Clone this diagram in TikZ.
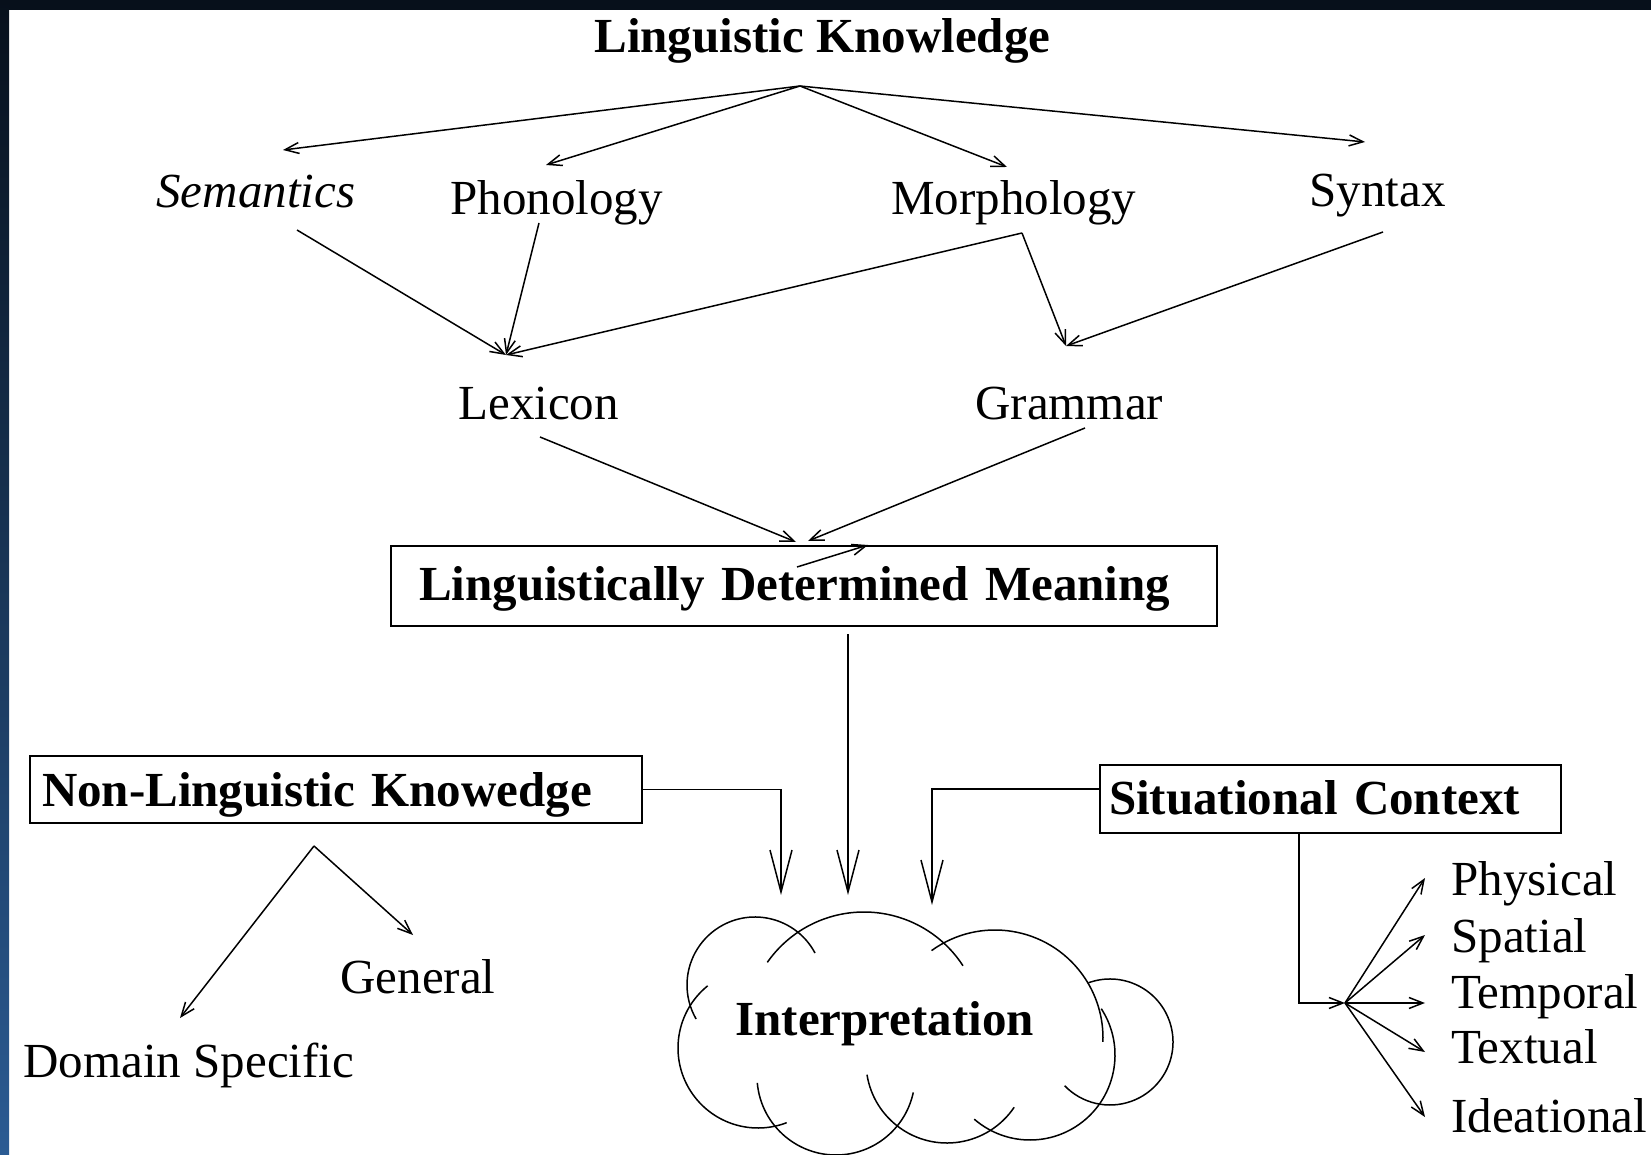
\documentclass[tikz,border=0pt]{standalone}
\usepackage{fontspec}
\setmainfont{Liberation Serif}
\usetikzlibrary{arrows.meta}
\definecolor{topdark}{HTML}{07101B}
\definecolor{leftblue}{HTML}{2B5B93}
\tikzset{
  conn/.style={line width=0.75pt, -{Straight Barb[length=7pt,width=5.5pt]}},
  bigarrow/.style={line width=0.75pt, -{Straight Barb[length=21pt,width=11pt]}},
  plain/.style={line width=0.75pt},
  boxed/.style={draw, line width=1pt, inner ysep=0pt, align=left, anchor=north west,
    font=\fontsize{24.5}{29}\selectfont\bfseries},
  lbl/.style={inner sep=0pt, anchor=base west, font=\fontsize{24.5}{29}\selectfont},
  cloudline/.style={line width=0.75pt},
}
\begin{document}
\begin{tikzpicture}[x=0.5pt,y=0.5pt]
\useasboundingbox (0,0) rectangle (1651,-1155);
\fill[white] (0,0) rectangle (1651,-1155);
\fill[topdark] (0,0) rectangle (1651,-10);
\shade[top color=topdark, bottom color=leftblue] (0,0) rectangle (9,-1155);

% text nodes
\node[lbl] (lk) at (594,-53) {\bfseries Linguistic Knowledge};
\node[lbl] (sem) at (156,-208) {\itshape Semantics};
\node[lbl] (pho) at (450,-215) {Phonology};
\node[lbl] (mor) at (891,-215) {Morphology};
\node[lbl] (syn) at (1309,-207) {Syntax};
\node[lbl] (lex) at (458,-420) {Lexicon};
\node[lbl] (gra) at (975,-420) {Grammar};
\node[boxed, inner xsep=14pt, text width=385pt, minimum height=40pt,
      text height=19pt, text depth=5pt] (ldm) at (390,-545) {Linguistically Determined Meaning};
\node[boxed, inner xsep=6pt, text width=294pt, minimum height=33.5pt,
      text height=19pt, text depth=2.5pt] (nlk) at (29,-755) {Non-Linguistic Knowedge};
\node[boxed, inner xsep=4.5pt, text width=221.5pt, minimum height=34pt,
      text height=18pt, text depth=3pt] (sc) at (1099,-764) {Situational Context};
\node[lbl] (interp) at (735,-1035) {\bfseries Interpretation};
\node[lbl] (gen) at (340,-993) {General};
\node[lbl] (dom) at (23,-1077) {Domain Specific};
\node[lbl] (phy) at (1451,-895) {Physical};
\node[lbl] (spa) at (1451,-952) {Spatial};
\node[lbl] (tem) at (1451,-1008) {Temporal};
\node[lbl] (tex) at (1451,-1063) {Textual};
\node[lbl] (ide) at (1451,-1132) {Ideational};

% connector points
\coordinate (lkfork) at (800,-86);
\coordinate (semin) at (283,-150);
\coordinate (phoin) at (546,-165);
\coordinate (morin) at (1007,-167);
\coordinate (synin) at (1365,-142);
\coordinate (semout) at (297,-230);
\coordinate (phoout) at (539,-223);
\coordinate (morout) at (1022,-233);
\coordinate (synout) at (1383,-232);
\coordinate (lexin) at (506,-355);
\coordinate (grain) at (1066,-346);
\coordinate (lexout) at (540,-437);
\coordinate (graout) at (1085,-428);
\coordinate (ldmin1) at (796,-542);
\coordinate (ldmin2) at (808,-541);
\coordinate (ldminner) at (797,-567);
\coordinate (ldmtop) at (868,-545);
\coordinate (ldmout) at (848,-634);
\coordinate (cin1) at (781,-895);
\coordinate (cin2) at (848,-895);
\coordinate (cin3) at (932,-905);
\coordinate (nlkfork) at (314,-846);
\coordinate (genin) at (413,-935);
\coordinate (domin) at (180,-1018);
\coordinate (hub) at (1345,-1003);
\coordinate (phyin) at (1425,-878);
\coordinate (spain) at (1425,-935);
\coordinate (temin) at (1425,-1003);
\coordinate (texin) at (1425,-1052);
\coordinate (idein) at (1425,-1117);

% top tier
\draw[conn] (lkfork) -- (semin);
\draw[conn] (lkfork) -- (phoin);
\draw[conn] (lkfork) -- (morin);
\draw[conn] (lkfork) -- (synin);
% second tier
\draw[conn] (semout) -- (lexin);
\draw[conn] (phoout) -- (lexin);
\draw[conn] (morout) -- (lexin);
\draw[conn] (morout) -- (grain);
\draw[conn] (synout) -- (grain);
% third tier
\draw[conn] (lexout) -- (ldmin1);
\draw[conn] (graout) -- (ldmin2);
\draw[conn] (ldminner) -- (ldmtop);
% into interpretation
\draw[bigarrow] (ldmout) -- (cin2);
\draw[bigarrow] (nlk.east) -| (cin1);
\draw[bigarrow] ([yshift=5pt]sc.west) -| (cin3);
% non-linguistic fan
\draw[conn] (nlkfork) -- (genin);
\draw[conn] (nlkfork) -- (domin);
% situational fan
\draw[conn] ([xshift=-15.75pt]sc.south) |- (hub);
\draw[conn] (hub) -- (phyin);
\draw[conn] (hub) -- (spain);
\draw[conn] (hub) -- (temin);
\draw[conn] (hub) -- (texin);
\draw[conn] (hub) -- (idein);

% cloud
\draw[cloudline] (755,-985) ++(28:68) arc[start angle=28, end angle=210, radius=68];
\draw[cloudline] (864,-1030) ++(33:118) arc[start angle=33, end angle=145, radius=118];
\draw[cloudline] (995,-1038) ++(126:108) arc[start angle=126, end angle=-2, radius=108];
\draw[cloudline] (1030,-1055) ++(33:85) arc[start angle=33, end angle=-131, radius=85];
\draw[cloudline] (947,-1062) ++(189:81) arc[start angle=189, end angle=326, radius=81];
\draw[cloudline] (836,-1076) ++(185:79) arc[start angle=185, end angle=348, radius=79];
\draw[cloudline] (758,-1048) ++(129:80) arc[start angle=129, end angle=291, radius=80];
\draw[cloudline] (1110,-1042) ++(110:63) arc[start angle=110, end angle=-136, radius=63];
\end{tikzpicture}
\end{document}
